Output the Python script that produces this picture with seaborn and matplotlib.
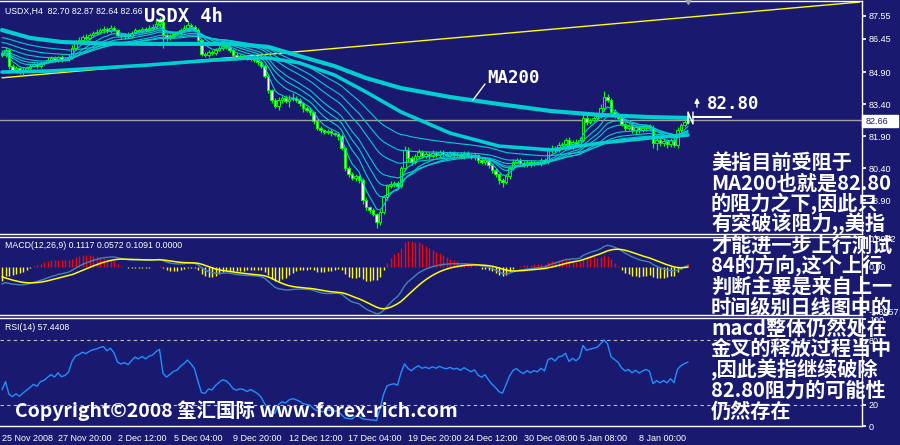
import matplotlib
matplotlib.use("Agg")
import matplotlib.pyplot as plt
from matplotlib.lines import Line2D
from matplotlib.patches import Rectangle
import numpy as np
import pandas as pd
import seaborn as sns

# USDX H4 closes, 25 Nov 2008 -> 8 Jan 2009
closes = [
    85.70, 85.93, 85.18, 85.00, 85.09, 84.90, 85.00, 85.09, 85.18, 85.28,
    85.18, 85.33, 85.37, 85.47, 85.56, 85.47, 85.61, 85.47, 85.51, 85.61,
    86.03, 86.31, 86.40, 86.54, 86.50, 86.64, 86.73, 86.78, 86.87, 86.92,
    86.83, 86.97, 86.87, 86.64, 86.59, 86.64, 86.59, 86.73, 86.87, 86.83,
    86.92, 86.87, 86.97, 87.01, 87.15, 87.25, 86.64, 86.50, 86.59, 86.69,
    86.73, 86.87, 86.97, 87.11, 87.01, 86.87, 86.40, 85.75, 85.70, 85.84,
    85.79, 85.93, 86.03, 86.12, 86.08, 85.93, 85.70, 85.61, 85.65, 85.61,
    85.51, 85.56, 85.47, 85.37, 85.18, 84.72, 84.06, 83.59, 83.31, 83.59,
    83.68, 83.54, 83.64, 83.68, 83.59, 83.45, 83.21, 83.12, 83.03, 82.61,
    82.28, 82.18, 82.09, 82.14, 82.04, 82.00, 81.90, 81.34, 80.40, 80.12,
    79.93, 80.03, 79.84, 78.90, 78.57, 78.43, 78.24, 77.87, 78.34, 79.04,
    79.56, 79.65, 79.70, 79.56, 80.40, 81.24, 80.87, 80.68, 80.96, 81.15,
    80.96, 81.06, 80.96, 81.10, 81.01, 81.15, 81.06, 81.01, 81.10, 81.01,
    81.06, 80.96, 81.10, 81.01, 80.92, 81.01, 80.78, 80.68, 80.78, 80.54,
    80.31, 80.12, 79.84, 79.74, 80.03, 80.40, 80.68, 80.78, 80.63, 80.54,
    80.68, 80.59, 80.68, 80.63, 80.78, 80.68, 81.24, 81.34, 81.24, 81.48,
    81.53, 81.71, 81.43, 81.62, 81.53, 81.71, 82.75, 82.56, 82.65, 82.75,
    82.84, 83.21, 83.73, 83.59, 83.03, 82.89, 82.75, 82.46, 82.28, 82.37,
    82.18, 82.32, 82.18, 82.28, 82.37, 82.28, 81.57, 81.71, 81.57, 81.67,
    81.53, 81.71, 81.48, 82.18, 82.41, 82.56, 82.66,
]
first_open = 85.80

wick_up = [
    .10, .15, .05, .08, .10, .06, .12, .08, .10, .06,
    .08, .10, .06, .12, .08, .10, .06, .08, .10, .12,
    .15, .10, .12, .08, .15, .10, .08, .12, .10, .15,
    .08, .12, .10, .06, .08, .10, .12, .08, .10, .06,
    .10, .08, .12, .15, .20, .25, .10, .08, .10, .06,
    .08, .10, .12, .20, .10, .08, .10, .06, .08, .10,
    .08, .12, .15, .18, .10, .08, .06, .10, .08, .06,
    .08, .06, .10, .08, .06, .10, .08, .06, .10, .12,
    .10, .15, .20, .25, .10, .08, .06, .10, .08, .06,
    .08, .10, .06, .08, .10, .06, .08, .10, .06, .08,
    .10, .08, .06, .08, .10, .06, .08, .06, .10, .12,
    .10, .15, .08, .10, .12, .20, .15, .10, .12, .15,
    .10, .12, .08, .15, .10, .12, .08, .10, .12, .08,
    .10, .08, .12, .10, .08, .10, .06, .08, .10, .12,
    .08, .10, .06, .08, .10, .12, .15, .10, .08, .10,
    .12, .08, .10, .06, .08, .10, .15, .12, .10, .15,
    .10, .12, .15, .10, .12, .15, .20, .15, .12, .10,
    .15, .20, .30, .15, .10, .12, .10, .08, .12, .10,
    .12, .10, .08, .12, .10, .08, .15, .10, .08, .12,
    .10, .12, .08, .15, .12, .10, .08,
]
wick_dn = [
    .10, .08, .12, .10, .06, .08, .15, .10, .08, .06,
    .10, .08, .12, .06, .08, .10, .12, .08, .06, .10,
    .08, .10, .06, .12, .08, .10, .06, .08, .10, .12,
    .10, .08, .06, .10, .15, .12, .08, .10, .06, .08,
    .10, .08, .06, .08, .10, .12, .60, .15, .10, .08,
    .06, .08, .10, .12, .08, .10, .15, .12, .10, .08,
    .10, .08, .06, .10, .12, .08, .10, .06, .08, .10,
    .06, .08, .10, .12, .10, .08, .15, .12, .10, .20,
    .15, .10, .30, .12, .10, .15, .20, .10, .12, .15,
    .10, .12, .08, .10, .15, .12, .20, .10, .15, .12,
    .10, .15, .12, .20, .15, .12, .10, .30, .15, .10,
    .12, .10, .15, .12, .10, .15, .20, .15, .10, .12,
    .10, .08, .12, .10, .08, .10, .12, .08, .10, .12,
    .08, .10, .12, .08, .10, .12, .15, .10, .12, .15,
    .12, .15, .20, .25, .10, .12, .08, .10, .12, .08,
    .10, .12, .08, .10, .12, .08, .10, .12, .08, .10,
    .12, .10, .08, .12, .10, .08, .10, .12, .08, .10,
    .08, .10, .12, .10, .15, .12, .10, .08, .12, .10,
    .15, .20, .12, .10, .15, .12, .25, .30, .15, .12,
    .20, .15, .10, .12, .10, .08, .06,
]

# thick moving averages, read at a few bars
ma200_bars = [0, 8, 17, 28, 42, 57, 66, 76, 85, 95, 104, 114, 128, 142, 157, 171, 185, 196]
ma200_vals = [86.87, 86.50, 86.31, 86.24, 86.22, 86.22, 86.22, 86.08, 85.65, 85.18,
              84.62, 84.15, 83.73, 83.40, 83.07, 82.89, 82.79, 82.75]
ma_slow_bars = [0, 14, 28, 42, 57, 71, 76, 85, 95, 104, 114, 128, 142, 157, 171, 185, 196]
ma_slow_vals = [84.90, 84.95, 85.09, 85.23, 85.42, 85.56, 85.56, 85.33, 84.76, 83.97,
                83.03, 82.04, 81.43, 81.25, 81.57, 81.81, 81.95]

# thin EMA ribbon: periods and their value on the first bar
ribbon_periods = [5, 10, 15, 20, 30, 40, 55]
ribbon_seeds = [85.70, 85.75, 85.80, 85.90, 86.08, 86.31, 86.54]

ema12_seed, ema26_seed, signal_seed = 85.95, 86.50, -0.25
rsi_gain_seed, rsi_loss_seed = 0.05, 0.09

trend_bars = [0, 245]
trend_prices = [84.63, 88.18]
last_price = 82.66

price_ticks = [87.55, 86.45, 84.90, 83.40, 81.90, 80.40, 78.90]
macd_ticks = [0.8952, 0.0, -1.3957]
macd_tick_labels = ["0.8952", "0.00", "-1.3957"]
rsi_ticks = [100, 80, 20, 0]
date_ticks = [0, 16, 33, 49, 66, 82, 99, 116, 132, 149, 165, 182]
date_labels = ["25 Nov 2008", "27 Nov 20:00", "2 Dec 12:00", "5 Dec 04:00", "9 Dec 20:00",
               "12 Dec 12:00", "17 Dec 04:00", "19 Dec 20:00", "24 Dec 12:00",
               "30 Dec 08:00", "5 Jan 08:00", "8 Jan 00:00"]

note_lines = ["美指目前受阻于", "MA200也就是82.80", "的阻力之下,因此只", "有突破该阻力,,美指",
              "才能进一步上行测试", "84的方向,这个上行", "判断主要是来自上一", "时间级别日线图中的",
              "macd整体仍然处在", "金叉的释放过程当中", ",因此美指继续破除", "82.80阻力的可能性",
              "仍然存在"]

BG = "#191970"
LIME = "#00FF00"
CYAN = "#00CED1"
SMALL = "Liberation Sans"
W, H = 900, 445


def seeded_ema(values, seed, span=None, alpha=None):
    s = pd.Series([seed] + list(values), dtype=float)
    return s.ewm(span=span, alpha=alpha, adjust=False).mean().iloc[1:].to_numpy()


def fx(x):
    return x / W


def fy(y):
    return 1 - y / H


bars = np.arange(len(closes))
df = pd.DataFrame({"bar": bars, "close": closes})
df["open"] = [first_open] + closes[:-1]
df["high"] = df[["open", "close"]].max(axis=1) + np.array(wick_up)
df["low"] = df[["open", "close"]].min(axis=1) - np.array(wick_dn)

ema12 = seeded_ema(closes, ema12_seed, span=12)
ema26 = seeded_ema(closes, ema26_seed, span=26)
macd = ema12 - ema26
signal = seeded_ema(macd, signal_seed, span=9)
hist = 2 * (macd - signal)

diff = np.diff([first_open] + closes)
avg_gain = seeded_ema(np.clip(diff, 0, None), rsi_gain_seed, alpha=1 / 14)
avg_loss = seeded_ema(np.clip(-diff, 0, None), rsi_loss_seed, alpha=1 / 14)
rsi = 100 - 100 / (1 + avg_gain / avg_loss)

sns.set_theme(style="dark")
plt.rcParams.update({
    "font.family": [SMALL, "DejaVu Sans", "Noto Sans CJK SC"],
    "axes.facecolor": BG,
    "figure.facecolor": BG,
    "axes.edgecolor": "white",
    "axes.linewidth": 1.0,
})

fig = plt.figure(figsize=(9, 4.45), dpi=100)
xlim = (-2 / 3.5, 860 / 3.5)
ax_p = fig.add_axes([0, fy(234), fx(862), 233 / H])
ax_m = fig.add_axes([0, fy(315), fx(862), 78 / H])
ax_r = fig.add_axes([0, fy(426), fx(862), 108 / H])

for ax in (ax_p, ax_m, ax_r):
    ax.set_xlim(*xlim)
    ax.spines["left"].set_visible(False)
    for side in ("top", "bottom", "right"):
        ax.spines[side].set_color("white")
    ax.yaxis.tick_right()
    ax.tick_params(axis="y", colors="white", labelsize=6.5, length=3, pad=2, direction="out")

# ---- price panel ----
ax_p.set_ylim(77.31, 88.23)
ax_p.plot(trend_bars, trend_prices, color="yellow", lw=1, zorder=2)
ax_p.axhline(last_price, color="#A0A0A0", lw=1, zorder=1)

up = df["close"] >= df["open"]
ax_p.vlines(df["bar"], df["low"], df["high"], color=LIME, lw=0.9, zorder=3)
ax_p.bar(df["bar"], (df["close"] - df["open"]).abs().clip(lower=0.03),
         bottom=df[["open", "close"]].min(axis=1), width=0.6,
         color=np.where(up, BG, "white"), edgecolor=LIME, linewidth=0.7, zorder=4)

for period, seed in zip(ribbon_periods, ribbon_seeds):
    sns.lineplot(x=bars, y=seeded_ema(closes, seed, span=period), ax=ax_p,
                 color=CYAN, lw=0.8, zorder=5)
sns.lineplot(x=ma_slow_bars, y=ma_slow_vals, ax=ax_p, color=CYAN, lw=2.6, zorder=5)
sns.lineplot(x=ma200_bars, y=ma200_vals, ax=ax_p, color=CYAN, lw=3.0, zorder=5)

ax_p.set_yticks(price_ticks)
ax_p.set_yticklabels([f"{v:.2f}" for v in price_ticks])
ax_p.set_xticks([])
ax_p.plot(196, 88.23, marker="v", color="#A0A0A0", ms=5, clip_on=False, zorder=6)

# ---- MACD panel ----
ax_m.set_ylim(-48 / 32, 30 / 32)
ax_m.vlines(bars, 0, hist, colors=np.where(hist >= 0, "red", "yellow"), lw=1, zorder=2)
sns.lineplot(x=bars, y=macd, ax=ax_m, color="#4682B4", lw=1, zorder=3)
sns.lineplot(x=bars, y=signal, ax=ax_m, color="yellow", lw=1.1, zorder=4)
ax_m.set_yticks(macd_ticks)
ax_m.set_yticklabels(macd_tick_labels)
ax_m.set_xticks([])

# ---- RSI panel ----
ax_r.set_ylim(0, 101)
for lvl in (80, 20):
    ax_r.axhline(lvl, color="#C0C0C0", lw=0.8, ls=(0, (3, 3)))
sns.lineplot(x=bars, y=rsi, ax=ax_r, color="#1E90FF", lw=1)
ax_r.set_yticks(rsi_ticks)
ax_r.set_yticklabels([str(v) for v in rsi_ticks])
ax_r.set_xticks(date_ticks)
ax_r.set_xticklabels(date_labels, ha="left")
ax_r.tick_params(axis="x", colors="white", labelsize=6.5, length=4, pad=2)

for ax in (ax_p, ax_m, ax_r):
    ax.set_xlabel("")
    ax.set_ylabel("")

# ---- labels and annotations ----
fig.text(fx(5), fy(11), "USDX,H4  82.70 82.87 82.64 82.66", color="white", fontsize=6.3,
         family=SMALL, va="center")
fig.text(fx(5), fy(246), "MACD(12,26,9) 0.1117 0.0572 0.1091 0.0000", color="white",
         fontsize=6.3, family=SMALL, va="center")
fig.text(fx(5), fy(327), "RSI(14) 57.4408", color="white", fontsize=6.3, family=SMALL, va="center")

mono = ["DejaVu Sans Mono", "Noto Sans CJK SC"]
fig.text(fx(144), fy(16), "USDX 4h", color="white", fontsize=13.5, fontweight="bold",
         family=mono, va="center")
fig.text(fx(487), fy(78), "MA200", color="white", fontsize=12.5, fontweight="bold",
         family=mono, va="center")
fig.text(fx(707), fy(104), "82.80", color="white", fontsize=12.5, fontweight="bold",
         family=mono, va="center")
fig.add_artist(Line2D([fx(485), fx(473)], [fy(84), fy(100)], color="white", lw=1))
fig.add_artist(Line2D([fx(693), fx(731)], [fy(117), fy(117)], color="white", lw=1.5))
fig.add_artist(Line2D([fx(688), fx(688), fx(693), fx(693)],
                      [fy(124), fy(112), fy(124), fy(112)], color="white", lw=1))
ax_p.annotate("", xy=(fx(697), fy(95)), xytext=(fx(697), fy(110)),
              xycoords="figure fraction", textcoords="figure fraction",
              arrowprops=dict(arrowstyle="-|>", color="white", lw=1, mutation_scale=7))

# current price box on the right scale
fig.add_artist(Rectangle((fx(862), fy(127)), 36 / W, 12 / H, transform=fig.transFigure,
                         facecolor="white", edgecolor="white", zorder=5))
fig.text(fx(866), fy(121), f"{last_price:.2f}", color=BG, fontsize=6.5, family=SMALL,
         va="center", zorder=6)

cjk = ["Noto Sans CJK SC", "DejaVu Sans"]
for i, line in enumerate(note_lines):
    fig.text(fx(711), fy(162 + i * 20.75), line, color="white", fontsize=14.5,
             fontweight="bold", family=cjk, va="center", zorder=7)
fig.text(fx(15), fy(411), "Copyright©2008 玺汇国际 www.forex-rich.com", color="white",
         fontsize=14, fontweight="bold", family=cjk, va="center", zorder=7)

fig.savefig("out.png", dpi=100, facecolor=BG)
